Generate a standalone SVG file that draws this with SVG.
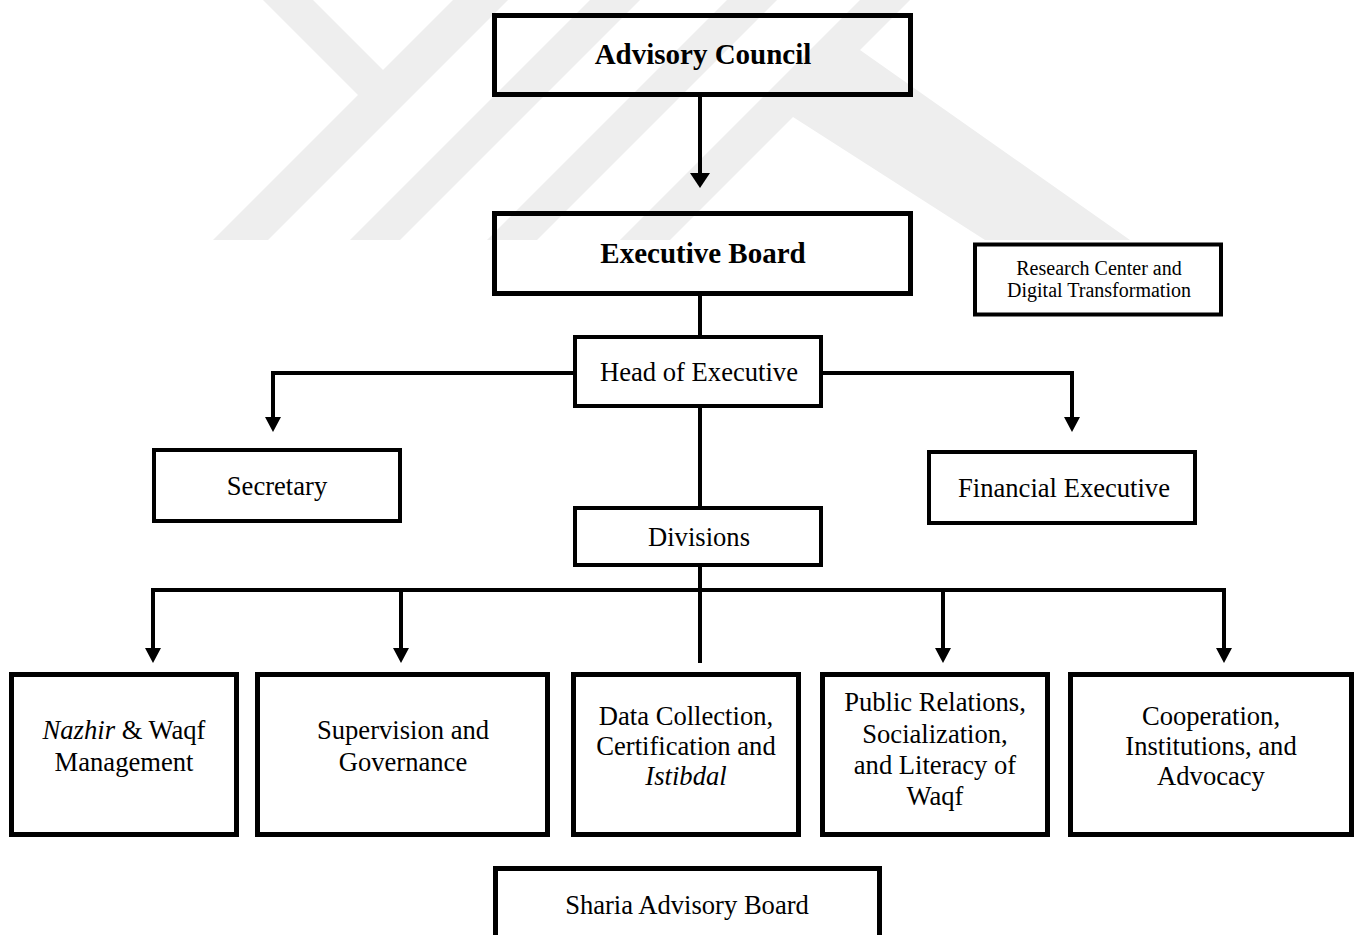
<svg xmlns="http://www.w3.org/2000/svg" width="1358" height="935" viewBox="0 0 1358 935">
<defs>
<style>
.box{fill:none;stroke:#000;stroke-width:4;}
.thick{stroke-width:5;}
.t{font-family:"Liberation Serif","Times New Roman",serif;font-size:26.6px;fill:#000;text-anchor:middle;}
.b{font-weight:bold;font-size:29px;}
.s{font-size:20px;}
.i{font-style:italic;}
.wm{fill:#eeeeee;stroke:none;}
.c{fill:none;stroke:#000;stroke-width:4;}
</style>
<marker id="ah" markerUnits="userSpaceOnUse" markerWidth="15" markerHeight="16" refX="0" refY="8" orient="auto-start-reverse" viewBox="0 0 15 16"><path d="M0,0 L15,8 L0,16 z" fill="#000"/></marker>
<marker id="ahL" markerUnits="userSpaceOnUse" markerWidth="15" markerHeight="20" refX="0" refY="10" orient="auto" viewBox="0 0 15 20"><path d="M0,0 L15,10 L0,20 z" fill="#000"/></marker>
</defs>
<rect width="1358" height="935" fill="#fff"/>
<g id="watermark">
<polygon class="wm" points="213,240 268,240 508,0 453,0"/>
<polygon class="wm" points="263,0 313,0 390,77 365,102"/>
<polygon class="wm" points="350,240 400,240 640,0 590,0"/>
<polygon class="wm" points="487,240 537,240 777,0 727,0"/>
<polygon class="wm" points="620,240 670,240 910,0 860,0"/>
<polygon class="wm" points="855,50 860,50 1130,240 985,240 793,117 788,117"/>
</g>
<g id="connectors">
<path class="c" d="M700,97 V173" marker-end="url(#ahL)"/>
<path class="c" d="M700,296 V337"/>
<path class="c" d="M575,373 H273 V417" marker-end="url(#ah)"/>
<path class="c" d="M821,373 H1072 V417" marker-end="url(#ah)"/>
<path class="c" d="M700,408 V508"/>
<path class="c" d="M700,565 V663"/>
<path class="c" d="M153,648 V590 H1224 V648" marker-start="url(#ah)" marker-end="url(#ah)"/>
<path class="c" d="M401,590 V648" marker-end="url(#ah)"/>
<path class="c" d="M943,590 V648" marker-end="url(#ah)"/>
</g>
<g id="advisory-council">
<rect class="box thick" x="494.5" y="15.5" width="416" height="79"/>
<text class="t b" x="703" y="64">Advisory Council</text>
</g>
<g id="executive-board">
<rect class="box thick" x="494.5" y="213.5" width="416" height="80"/>
<text class="t b" x="703" y="263">Executive Board</text>
</g>
<g id="research-center">
<rect class="box" x="975" y="244.5" width="246" height="70"/>
<text class="t s" x="1099" y="275">Research Center and</text>
<text class="t s" x="1099" y="297">Digital Transformation</text>
</g>
<g id="head-of-executive">
<rect class="box" x="575" y="337" width="246" height="69"/>
<text class="t" x="699" y="381">Head of Executive</text>
</g>
<g id="secretary">
<rect class="box" x="154" y="450" width="246" height="71"/>
<text class="t" x="277" y="495">Secretary</text>
</g>
<g id="financial-executive">
<rect class="box" x="929" y="452" width="266" height="71"/>
<text class="t" x="1064" y="497">Financial Executive</text>
</g>
<g id="divisions">
<rect class="box" x="575" y="508" width="246" height="57"/>
<text class="t" x="699" y="546">Divisions</text>
</g>
<g id="nazhir-waqf-management">
<rect class="box thick" x="11.5" y="674.5" width="225" height="160"/>
<text class="t" x="124" y="739"><tspan class="i">Nazhir</tspan> &amp; Waqf</text>
<text class="t" x="124" y="771">Management</text>
</g>
<g id="supervision-governance">
<rect class="box thick" x="257.5" y="674.5" width="290" height="160"/>
<text class="t" x="403" y="739">Supervision and</text>
<text class="t" x="403" y="771">Governance</text>
</g>
<g id="data-collection">
<rect class="box thick" x="573.5" y="674.5" width="225" height="160"/>
<text class="t" x="686" y="724.5">Data Collection,</text>
<text class="t" x="686" y="754.5">Certification and</text>
<text class="t i" x="686" y="785">Istibdal</text>
</g>
<g id="public-relations">
<rect class="box thick" x="822.5" y="674.5" width="225" height="160"/>
<text class="t" x="935" y="711">Public Relations,</text>
<text class="t" x="935" y="743">Socialization,</text>
<text class="t" x="935" y="774">and Literacy of</text>
<text class="t" x="935" y="805">Waqf</text>
</g>
<g id="cooperation">
<rect class="box thick" x="1070.5" y="674.5" width="281" height="160"/>
<text class="t" x="1211" y="724.5">Cooperation,</text>
<text class="t" x="1211" y="754.5">Institutions, and</text>
<text class="t" x="1211" y="785">Advocacy</text>
</g>
<g id="sharia-advisory-board">
<rect class="box thick" x="495.5" y="868.5" width="384" height="100"/>
<text class="t" x="687" y="914">Sharia Advisory Board</text>
</g>
</svg>
